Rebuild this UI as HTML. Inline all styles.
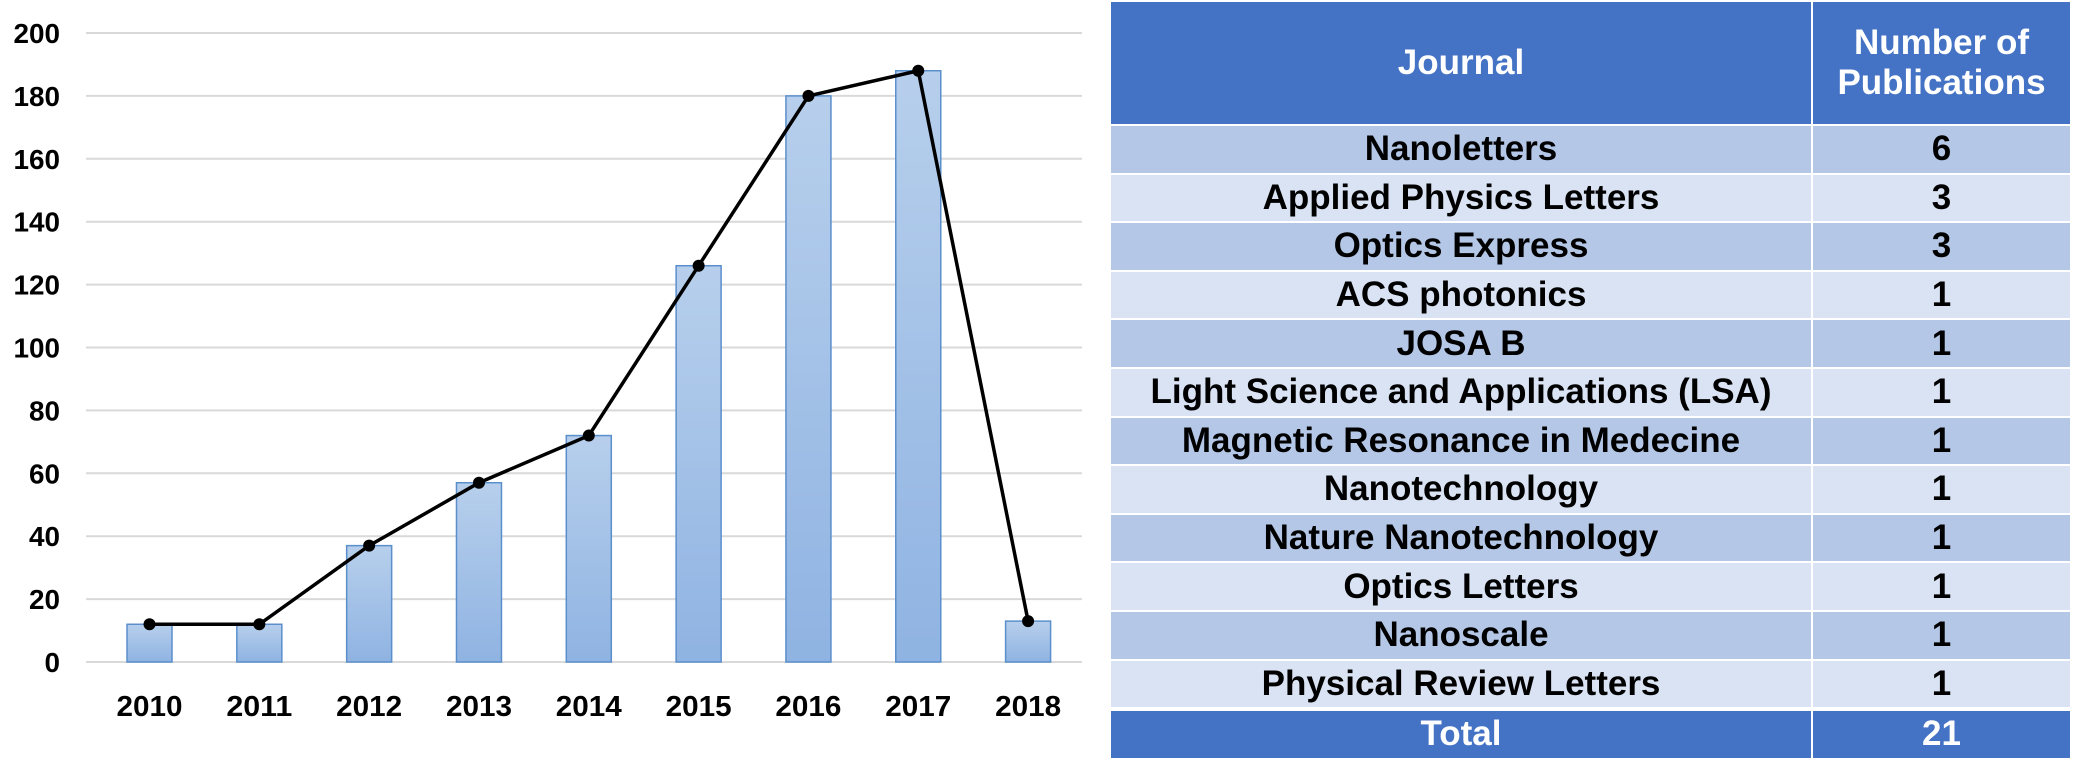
<!DOCTYPE html>
<html><head><meta charset="utf-8"><style>
body{margin:0;width:2075px;height:778px;background:#fff;overflow:hidden;font-family:"Liberation Sans",Arial,sans-serif}
#chart{position:absolute;left:0;top:0}
table{position:absolute;left:1109px;top:0;width:963px;border-collapse:collapse;font-weight:bold;text-align:center}
td{padding:0;border:2px solid #fff;font-size:35px;color:#000;height:46.6px;line-height:40px}
tr.h td{background:#4472C4;color:#fff;height:122px;line-height:40px}
tr.d td{background:#B4C7E7}
tr.l td{background:#DAE3F3}
tr.t td{background:#4472C4;color:#fff;border-top:4px solid #fff}
</style></head><body>
<svg id="chart" width="1100" height="778"></svg>
<table>
<tr class="h"><td style="width:700px">Journal</td><td>Number of<br>Publications</td></tr>
<tr class="d"><td>Nanoletters</td><td>6</td></tr>
<tr class="l"><td>Applied Physics Letters</td><td>3</td></tr>
<tr class="d"><td>Optics Express</td><td>3</td></tr>
<tr class="l"><td>ACS photonics</td><td>1</td></tr>
<tr class="d"><td>JOSA B</td><td>1</td></tr>
<tr class="l"><td>Light Science and Applications (LSA)</td><td>1</td></tr>
<tr class="d"><td>Magnetic Resonance in Medecine</td><td>1</td></tr>
<tr class="l"><td>Nanotechnology</td><td>1</td></tr>
<tr class="d"><td>Nature Nanotechnology</td><td>1</td></tr>
<tr class="l"><td>Optics Letters</td><td>1</td></tr>
<tr class="d"><td>Nanoscale</td><td>1</td></tr>
<tr class="l"><td>Physical Review Letters</td><td>1</td></tr>
<tr class="t"><td>Total</td><td>21</td></tr>
</table>
<script>
const years=["2010","2011","2012","2013","2014","2015","2016","2017","2018"];
const counts=[12,12,37,57,72,126,180,188,13];
const yTicks=[0,20,40,60,80,100,120,140,160,180,200];
const NS="http://www.w3.org/2000/svg";
const svg=document.getElementById("chart");
const gx0=86,gx1=1082,x0=94.6,x1=1083,yTop=33,yBot=662,yMax=200;
const band=(x1-x0)/years.length;
const xs=i=>x0+band*(i+0.5);
const ys=v=>yBot-(v/yMax)*(yBot-yTop);
function mk(t,a){const e=document.createElementNS(NS,t);for(const k in a)e.setAttribute(k,a[k]);svg.appendChild(e);return e;}
const defs=mk("defs",{});
defs.innerHTML='<linearGradient id="g" x1="0" y1="0" x2="0" y2="1"><stop offset="0" stop-color="#B7CFEC"/><stop offset="1" stop-color="#8FB3E2"/></linearGradient>';
yTicks.forEach(t=>{
 const l=mk("line",{x1:gx0,x2:gx1,y1:ys(t),y2:ys(t),stroke:"#d9d9d9","stroke-width":2});
 
 
 const s=String(t);
 const tx=mk("text",{x:60,y:ys(t)+10,"text-anchor":"end","font-size":28,"font-weight":"bold",textLength:s.length*15.5,lengthAdjust:"spacingAndGlyphs"});
 tx.textContent=s;
 
 
});
const bw=45;
years.forEach((y,i)=>{
 const r=mk("rect",{x:xs(i)-bw/2,y:ys(counts[i]),width:bw,height:yBot-ys(counts[i]),fill:"url(#g)",stroke:"#5B8FCC","stroke-width":1.5});
 
 
 const tx=mk("text",{x:xs(i),y:716,"text-anchor":"middle","font-size":29,"font-weight":"bold",textLength:66,lengthAdjust:"spacingAndGlyphs"});
 tx.textContent=y;
 
 
});
const pl=mk("polyline",{points:counts.map((v,i)=>xs(i)+","+ys(v)).join(" "),fill:"none",stroke:"#000","stroke-width":3.5});


counts.forEach((v,i)=>{
 const c=mk("circle",{cx:xs(i),cy:ys(v),r:6,fill:"#000"});
 
 
});
</script>
</body></html>
